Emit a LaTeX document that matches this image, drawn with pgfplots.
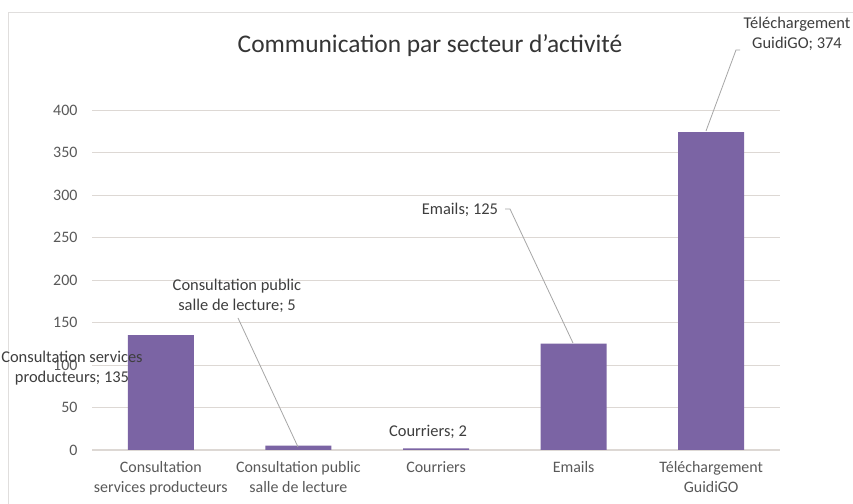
\documentclass[border=0pt]{standalone}
\usepackage{pgfplots}
\pgfplotsset{compat=1.18}
\usepackage{fontspec}
\setmainfont{Carlito}
\definecolor{barc}{HTML}{7B64A4}
\definecolor{gridc}{HTML}{DDD8D4}
\definecolor{txt}{HTML}{595959}
\definecolor{lead}{HTML}{A6A6A6}
\begin{document}
\begin{tikzpicture}[x=1bp,y=1bp]
\useasboundingbox (0,0) rectangle (853,504);
\fill[white] (0,0) rectangle (853,504);
\draw[gridc!80!black!40, line width=1bp] (8,-2) -- (8,491) -- (856,491);
\node[txt!60!black, font=\fontsize{25.5}{30}\selectfont] at (430,458) {Communication par secteur d'activité};
\begin{axis}[
  at={(92bp,54bp)}, anchor=south west,
  scale only axis, width=688bp, height=340bp,
  xmin=-0.5, xmax=4.5, ymin=0, ymax=400,
  ytick={0,50,...,400},
  xtick={0,1,2,3,4},
  xticklabels={{Consultation\\services producteurs},{Consultation public\\salle de lecture},{Courriers},{Emails},{Téléchargement\\GuidiGO}},
  tick label style={text=txt, font=\fontsize{16}{20}\selectfont},
  xticklabel style={align=center, yshift=-8bp},
  yticklabel style={xshift=-11bp},
  /pgf/number format/assume math mode=true,
  ymajorgrids, grid style={gridc, line width=0.9bp},
  axis x line*=bottom, axis y line*=left,
  y axis line style={draw=none},
  x axis line style={gridc, line width=1bp, -},
  major x tick style={draw=none},
  extra x ticks={-0.5,0.5,1.5,2.5,3.5,4.5},
  extra x tick labels={},
  extra x tick style={major tick length=5bp, tick style={gridc, line width=1bp}, tickpos=left, xtick align=outside, grid=none},
  ytick style={draw=none},
  clip=false,
]
\addplot[ybar, bar width=66bp, fill=barc, draw=none] coordinates {(0,135) (1,5) (2,2) (3,125) (4,374)};
\end{axis}
% data labels (positions in picture bp)
\begin{scope}[every node/.style={text=txt!70!black, font=\fontsize{16.5}{20}\selectfont, align=center, inner sep=1bp}]
\node at (72,136) {Consultation services\\producteurs; 135};
\node at (237,208) {Consultation public\\salle de lecture; 5};
\node at (428,72) {Courriers; 2};
\node at (460,294) {Emails; 125};
\node at (797,470) {Téléchargement\\GuidiGO; 374};
\end{scope}
\draw[lead, line width=0.8bp] (238,186) -- (298,57);
\draw[lead, line width=0.8bp] (505,295) -- (510,295) -- (573,161);
\draw[lead, line width=0.8bp] (740,454) -- (736,454) -- (706,373);
\end{tikzpicture}
\end{document}
